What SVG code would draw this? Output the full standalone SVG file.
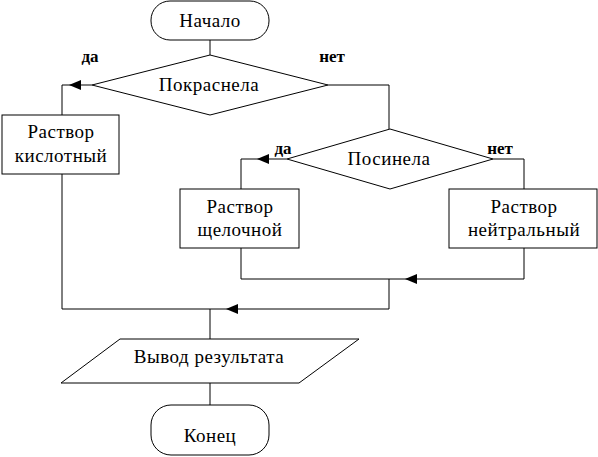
<svg xmlns="http://www.w3.org/2000/svg" width="598" height="457" viewBox="0 0 598 457">
<style>
.s{fill:#fff;stroke:#000;stroke-width:1}
.c{fill:none;stroke:#000;stroke-width:1}
.t{font-family:"Liberation Serif","Times New Roman",serif;font-size:19px;letter-spacing:0.5px;fill:#000;text-anchor:middle}
.l{font-family:"Liberation Serif","Times New Roman",serif;font-size:17px;font-weight:bold;fill:#000;text-anchor:middle}
.a{fill:#000;stroke:none}
</style>
<rect width="598" height="457" fill="#fff"/>
<g id="connectors">
<polyline class="c" points="210,40 210,55"/>
<polyline class="c" points="92,85 62,85 62,115"/>
<polyline class="c" points="328,85 389,85 389,129"/>
<polyline class="c" points="287,159 241,159 241,189"/>
<polyline class="c" points="493,159 524,159 524,189"/>
<polyline class="c" points="241,248 241,279 524,279 524,248"/>
<polyline class="c" points="389,279 389,309"/>
<polyline class="c" points="62,174 62,309 389,309"/>
<polyline class="c" points="210,309 210,339"/>
<polyline class="c" points="210,383 210,405"/>
<polygon class="a" points="69,85 81,80 81,90"/>
<polygon class="a" points="257,159 269,154 269,164"/>
<polygon class="a" points="405,279 417,274 417,284"/>
<polygon class="a" points="226,309 238,304 238,314"/>
<text class="l" x="90" y="62">да</text>
<text class="l" x="332" y="62">нет</text>
<text class="l" x="283" y="154">да</text>
<text class="l" x="500" y="154">нет</text>
</g>
<g id="start">
<rect class="s" x="151" y="1" width="118" height="39" rx="19" ry="19"/>
<text class="t" x="210" y="27">Начало</text>
</g>
<g id="d1">
<polygon class="s" points="210,55 328,85 210,115 92,85"/>
<text class="t" x="209" y="91">Покраснела</text>
</g>
<g id="acid">
<rect class="s" x="2" y="115" width="117" height="59"/>
<text class="t" x="61" y="138">Раствор</text>
<text class="t" x="61" y="162">кислотный</text>
</g>
<g id="d2">
<polygon class="s" points="390,129 493,159 390,189 287,159"/>
<text class="t" x="389" y="165">Посинела</text>
</g>
<g id="alkali">
<rect class="s" x="180" y="189" width="119" height="59"/>
<text class="t" x="240" y="213">Раствор</text>
<text class="t" x="240" y="236">щелочной</text>
</g>
<g id="neutral">
<rect class="s" x="449" y="189" width="148" height="59"/>
<text class="t" x="524" y="213">Раствор</text>
<text class="t" x="524" y="236">нейтральный</text>
</g>
<g id="output">
<polygon class="s" points="120,339 359,339 299,383 61,383"/>
<text class="t" x="209" y="363">Вывод результата</text>
</g>
<g id="end">
<rect class="s" x="151" y="405" width="118" height="50" rx="20" ry="20"/>
<text class="t" x="210" y="442">Конец</text>
</g>
</svg>
